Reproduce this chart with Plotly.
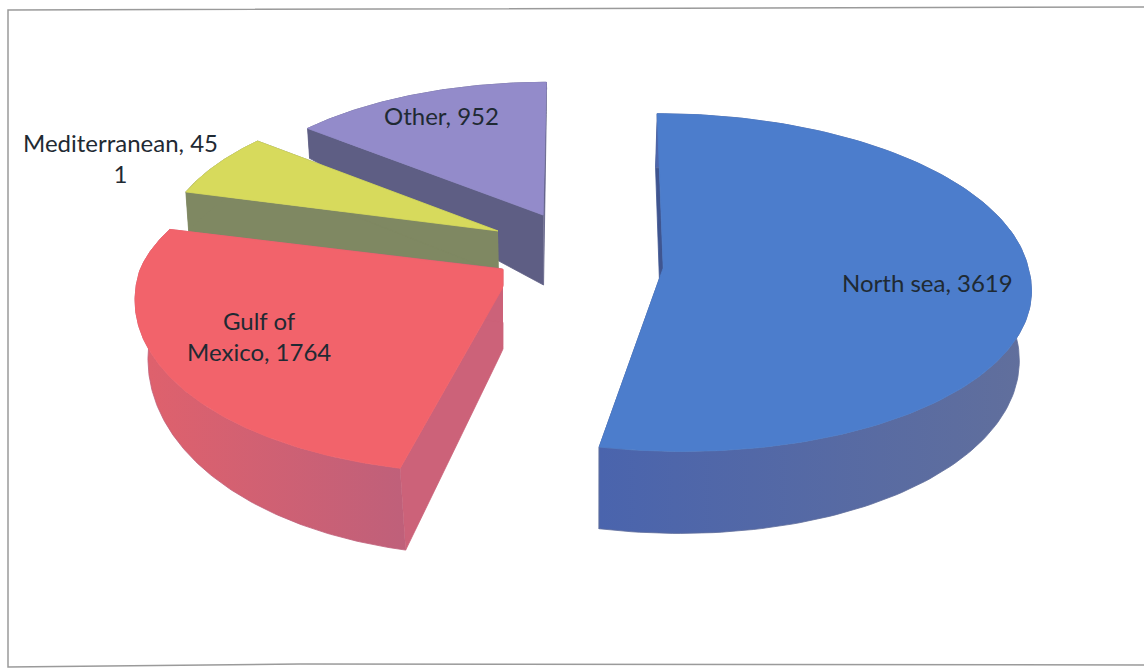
import numpy as np
import plotly.graph_objects as go

# Offshore regions and their values
regions = ["North sea", "Gulf of Mexico", "Mediterranean", "Other"]
values = [3619, 1764, 451, 952]

# Label wrapping and placement (page pixels)
label_texts = ["North sea, 3619", "Gulf of<br>Mexico, 1764", "Mediterranean, 45<br>1", "Other, 952"]
label_x = [927, 259, 120, 441]
label_y = [282, 336, 158, 115]

# Colours for the top face, the rim and the cut faces
top_colors = ["#4c7dcc", "#f2636b", "#d7da5c", "#938bca"]
wall_left = ["#4a64ad", "#e0616c", "#7f8862", "#5e5e84"]
wall_right = ["#616f9c", "#bf607a", "#7f8862", "#5e5e84"]
face_colors = ["#3f5590", "#cc6279", "#7f8862", "#5e5e84"]

# Exploded position on the ground plane and radius of each wedge
offset_x = [0.204, -0.204, -0.249, -0.125]
offset_y = [-0.021, -0.033, 0.2045, 0.304]
radius_x = [0.99, 1.01, 0.92, 0.90]
radius_y_front = [1.0, 1.095, 0.92, 0.90]
radius_y_back = [1.0, 0.92, 0.92, 0.90]
# Sideways lean of the front and back halves of a wedge
front_lean = [-0.03, 0.045, 0.0, 0.0]
back_lean = [0.0, 0.08, 0.0, 0.0]
# Wall height at the apex and its change towards the back of the wedge
wall_apex = [68, 54, 42, 70]
wall_slope = [14, 26, 8, 70]
# Horizontal shrink of the lower level around BOTTOM_CX
bottom_scale = [0.972, 0.972, 0.993, 0.993]
# Right-hand limit of a wedge on the page, where it has one
clip_right = [None, 503, None, None]

# Open frame: left, top and bottom rules only
frame_x = [1144, 8, 8, 300, 1144]
frame_y = [7, 10, 667, 664, 665]

# Projection of the tilted plane onto the page
CX, CY = 588.0, 264.5
BOTTOM_CX = 597.0
SCALE_X, SCALE_Y, PERSPECTIVE = 368.0, 167.0, 0.086
# Back to front
DRAW_ORDER = [3, 2, 1, 0]


def project(x, y):
    w = 1 + PERSPECTIVE * y
    return CX + SCALE_X * x / w, CY - SCALE_Y * y / w


def rim_points(i, t0, t1):
    th = np.linspace(t0, t1, 160)
    c = np.cos(th)
    v = np.where(c > 0, radius_y_back[i], radius_y_front[i]) * c
    u = (radius_x[i] * np.sin(th)
         + front_lean[i] * np.minimum(v, 0)
         + back_lean[i] * np.maximum(v, 0))
    return u, v


def level(i, u, v, lowered):
    px, py = project(offset_x[i] + u, offset_y[i] + v)
    if lowered:
        py = py + wall_apex[i] - wall_slope[i] * v
        px = BOTTOM_CX + (px - BOTTOM_CX) * bottom_scale[i]
    if clip_right[i] is not None:
        px = np.minimum(px, clip_right[i])
    return px, py


def polygon(px, py, color, gradient=None):
    extra = {}
    if gradient is not None:
        extra["fillgradient"] = dict(
            type="horizontal",
            colorscale=[[0, gradient[0]], [1, gradient[1]]],
        )
    else:
        extra["fillcolor"] = color
    return go.Scatter(
        x=np.round(px, 2).tolist(), y=np.round(py, 2).tolist(),
        mode="lines", fill="toself",
        line=dict(color=color, width=0.8), hoverinfo="skip", showlegend=False,
        **extra,
    )


fractions = np.array(values, dtype=float) / sum(values)
edges = np.concatenate([[0], np.cumsum(fractions)]) * 2 * np.pi

fig = go.Figure()

fig.add_trace(go.Scatter(x=frame_x, y=frame_y, mode="lines",
                         line=dict(color="#9a9a9a", width=1.5),
                         hoverinfo="skip", showlegend=False))

for i in DRAW_ORDER:
    rim_u, rim_v = rim_points(i, edges[i], edges[i + 1])
    s = np.linspace(0, 1, 60)

    # Two cut faces running from the apex out to the rim
    for eu, ev in ((rim_u[0], rim_v[0]), (rim_u[-1], rim_v[-1])):
        tx, ty = level(i, eu * s, ev * s, False)
        bx, by = level(i, eu * s, ev * s, True)
        fig.add_trace(polygon(np.r_[tx, bx[::-1]], np.r_[ty, by[::-1]], face_colors[i]))

    # Outer rim wall
    tx, ty = level(i, rim_u, rim_v, False)
    bx, by = level(i, rim_u, rim_v, True)
    fig.add_trace(polygon(np.r_[tx, bx[::-1]], np.r_[ty, by[::-1]], wall_right[i],
                          gradient=(wall_left[i], wall_right[i])))

    # Top face
    u = np.r_[rim_u[0] * s, rim_u, rim_u[-1] * s[::-1]]
    v = np.r_[rim_v[0] * s, rim_v, rim_v[-1] * s[::-1]]
    px, py = level(i, u, v, False)
    fig.add_trace(polygon(px, py, top_colors[i]))

for text, x, y in zip(label_texts, label_x, label_y):
    fig.add_annotation(
        x=x, y=y, text=text, showarrow=False, align="center",
        font=dict(family="Lato", size=24, color="#1f2a33"),
    )

fig.update_xaxes(visible=False, range=[0, 1144], fixedrange=True)
fig.update_yaxes(visible=False, range=[668, 0], fixedrange=True)
fig.update_layout(
    width=1144, height=668, margin=dict(l=0, r=0, t=0, b=0),
    paper_bgcolor="white", plot_bgcolor="white", showlegend=False,
)
fig.write_html("out.html", config={"displayModeBar": False})
